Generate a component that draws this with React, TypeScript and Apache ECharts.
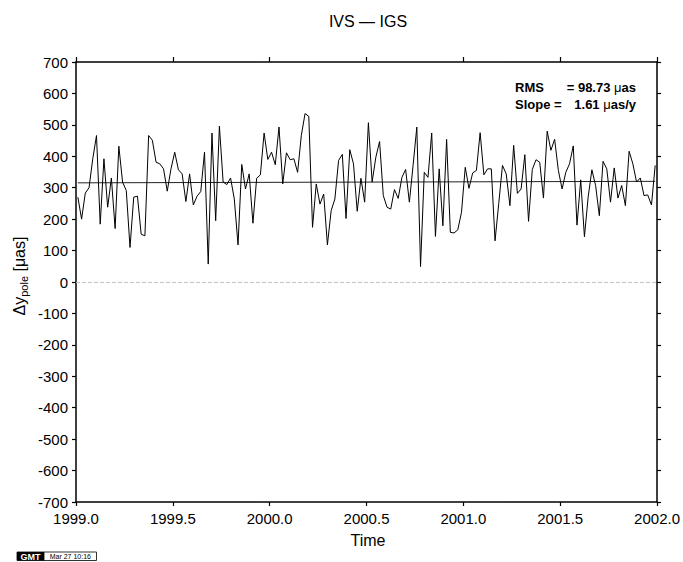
import React, { useEffect, useRef } from "react";
import * as echarts from "echarts";

const FONT = "'Liberation Sans', Arial, Helvetica, sans-serif";

// Weekly Δy_pole differences IVS − IGS (µas)
const Y1999 = [
  270, 200, 283, 300, 392, 466, 184, 392, 238, 331, 170, 432, 318, 291, 110, 270,
  273, 152, 147, 466, 451, 381, 376, 360, 289, 360, 413, 357, 344, 256, 344, 245,
  273, 288, 413, 57, 474, 195, 496, 318, 310, 331, 264, 118, 374, 296, 344, 187,
  330, 341, 474, 390,
];
const Y2000 = [
  413, 373, 493, 312, 411, 389, 392, 349, 467, 536, 527, 174, 312, 248, 280, 118,
  227, 264, 387, 406, 202, 421, 376, 225, 330, 254, 507, 318, 397, 447, 275, 238,
  232, 294, 266, 333, 358, 254, 371, 493, 49, 349, 333, 474, 145, 360, 179, 454,
  158, 156, 166, 222,
];
const Y2001 = [
  365, 298, 347, 355, 475, 341, 360, 360, 131, 250, 371, 344, 243, 435, 282, 296,
  405, 193, 358, 389, 381, 267, 480, 419, 454, 355, 296, 349, 376, 433, 181, 325,
  144, 270, 357, 307, 211, 384, 360, 254, 363, 267, 307, 243, 416, 376, 318, 331,
  275, 277, 245, 371,
];
const YEARS = [1999, 2000, 2001];
const WEEKS_PER_YEAR = 52;

const X_TICKS_MIN = 1999;
const X_TICKS_MAX = 2002;
const X_INTERVAL = 0.5;
const Y_MIN = -700;
const Y_MAX = 700;
const Y_INTERVAL = 100;

const FIT_INTERCEPT = 315.5; // value of the trend line at 1999.0
const FIT_SLOPE = 1.61; // µas/y
const RMS = 98.73;

export default function App() {
  const ref = useRef<HTMLDivElement>(null);

  useEffect(() => {
    if (!ref.current) return;
    const chart = echarts.init(ref.current, undefined, { renderer: "svg" });

    const yearly = [Y1999, Y2000, Y2001];
    const data: [number, number][] = [];
    yearly.forEach((vals, yi) => {
      vals.forEach((v, k) => {
        data.push([YEARS[yi] + (k + 0.5) / WEEKS_PER_YEAR, v]);
      });
    });
    const t0 = data[0][0];
    const t1 = data[data.length - 1][0];
    const fit = [
      [t0, FIT_INTERCEPT + FIT_SLOPE * (t0 - X_TICKS_MIN)],
      [t1, FIT_INTERCEPT + FIT_SLOPE * (t1 - X_TICKS_MIN)],
    ];

    const axisLine = { onZero: false, lineStyle: { color: "#000", width: 1.5 } };
    const tickStyle = { color: "#000", width: 1.2 };
    const label = { color: "#000", fontSize: 15, fontFamily: FONT };

    chart.setOption({
      animation: false,
      textStyle: { fontFamily: FONT },
      grid: { left: 76, top: 62, width: 585, height: 440, containLabel: false },
      xAxis: [
        {
          type: "value",
          min: X_TICKS_MIN,
          max: X_TICKS_MAX,
          interval: X_INTERVAL,
          position: "bottom",
          axisLine,
          axisTick: { length: 4, lineStyle: tickStyle },
          axisLabel: { ...label, margin: 9, formatter: (v: number) => v.toFixed(1) },
          splitLine: { show: false },
        },
        {
          type: "value",
          min: X_TICKS_MIN,
          max: X_TICKS_MAX,
          interval: X_INTERVAL,
          position: "top",
          axisLine,
          axisTick: { length: 5, lineStyle: tickStyle },
          axisLabel: { show: false },
          splitLine: { show: false },
        },
      ],
      yAxis: [
        {
          type: "value",
          min: Y_MIN,
          max: Y_MAX,
          interval: Y_INTERVAL,
          position: "left",
          axisLine,
          axisTick: { length: 4, lineStyle: tickStyle },
          axisLabel: { ...label, margin: 8 },
          splitLine: { show: false },
        },
        {
          type: "value",
          min: Y_MIN,
          max: Y_MAX,
          interval: Y_INTERVAL,
          position: "right",
          axisLine,
          axisTick: { length: 4, lineStyle: tickStyle },
          axisLabel: { show: false },
          splitLine: { show: false },
        },
      ],
      series: [
        {
          type: "line",
          data: fit,
          showSymbol: false,
          symbol: "none",
          lineStyle: { color: "#222", width: 1 },
          silent: true,
          markLine: {
            silent: true,
            symbol: ["none", "none"],
            label: { show: false },
            lineStyle: { type: "dashed", color: "#c4c4c4", width: 1 },
            data: [{ yAxis: 0 }],
          },
          z: 2,
        },
        {
          type: "line",
          data,
          showSymbol: false,
          symbol: "none",
          lineStyle: { color: "#000", width: 1 },
          silent: true,
          z: 3,
        },
      ],
      graphic: [
        {
          type: "text",
          left: undefined,
          x: 368,
          y: 21,
          style: {
            text: "IVS — IGS",
            fontFamily: FONT,
            fontSize: 16,
            fill: "#000",
            align: "center",
            verticalAlign: "middle",
          },
        },
        {
          type: "text",
          x: 368,
          y: 540,
          style: {
            text: "Time",
            fontFamily: FONT,
            fontSize: 16,
            fill: "#000",
            align: "center",
            verticalAlign: "middle",
          },
        },
        {
          type: "text",
          x: 19,
          y: 276,
          rotation: Math.PI / 2,
          style: {
            text: "{m|Δy}{s|pole}{m| [μas]}",
            fontFamily: FONT,
            fill: "#000",
            align: "center",
            verticalAlign: "middle",
            rich: {
              m: { fontSize: 16, fontFamily: FONT, fill: "#000", lineHeight: 20, verticalAlign: "middle" },
              s: { fontSize: 11, fontFamily: FONT, fill: "#000", lineHeight: 20, verticalAlign: "bottom", padding: [6, 0, 0, 0] },
            },
          },
        },
        {
          type: "text",
          x: 515,
          y: 87,
          style: { text: "RMS", fontFamily: FONT, fontSize: 13, fontWeight: "bold", fill: "#000", align: "left", verticalAlign: "middle" },
        },
        {
          type: "text",
          x: 636,
          y: 87,
          style: {
            text: `{b|= ${RMS.toFixed(2)} }{g|μ}{b|as}`,
            align: "right",
            verticalAlign: "middle",
            rich: {
              b: { fontFamily: FONT, fontSize: 13, fontWeight: "bold", fill: "#000" },
              g: { fontFamily: FONT, fontSize: 13, fill: "#000" },
            },
          },
        },
        {
          type: "text",
          x: 515,
          y: 104,
          style: { text: "Slope =", fontFamily: FONT, fontSize: 13, fontWeight: "bold", fill: "#000", align: "left", verticalAlign: "middle" },
        },
        {
          type: "text",
          x: 636,
          y: 104,
          style: {
            text: `{b|${FIT_SLOPE.toFixed(2)} }{g|μ}{b|as/y}`,
            align: "right",
            verticalAlign: "middle",
            rich: {
              b: { fontFamily: FONT, fontSize: 13, fontWeight: "bold", fill: "#000" },
              g: { fontFamily: FONT, fontSize: 13, fill: "#000" },
            },
          },
        },
        {
          type: "rect",
          shape: { x: 17, y: 552, width: 27, height: 8.5 },
          style: { fill: "#000", stroke: "#000", lineWidth: 0.8 },
        },
        {
          type: "text",
          x: 30.5,
          y: 556.5,
          style: { text: "GMT", fontFamily: FONT, fontSize: 9, fontWeight: "bold", fill: "#fff", align: "center", verticalAlign: "middle" },
        },
        {
          type: "rect",
          shape: { x: 44, y: 552, width: 52.5, height: 8.5 },
          style: { fill: "#fff", stroke: "#000", lineWidth: 0.8 },
        },
        {
          type: "text",
          x: 70.3,
          y: 556.5,
          style: { text: "Mar 27 10:16", fontFamily: FONT, fontSize: 7, fill: "#000", align: "center", verticalAlign: "middle" },
        },
      ],
    });

    return () => chart.dispose();
  }, []);

  return (
    <div
      ref={ref}
      style={{ position: "fixed", left: 0, top: 0, width: 683, height: 562, background: "#fff" }}
    />
  );
}
